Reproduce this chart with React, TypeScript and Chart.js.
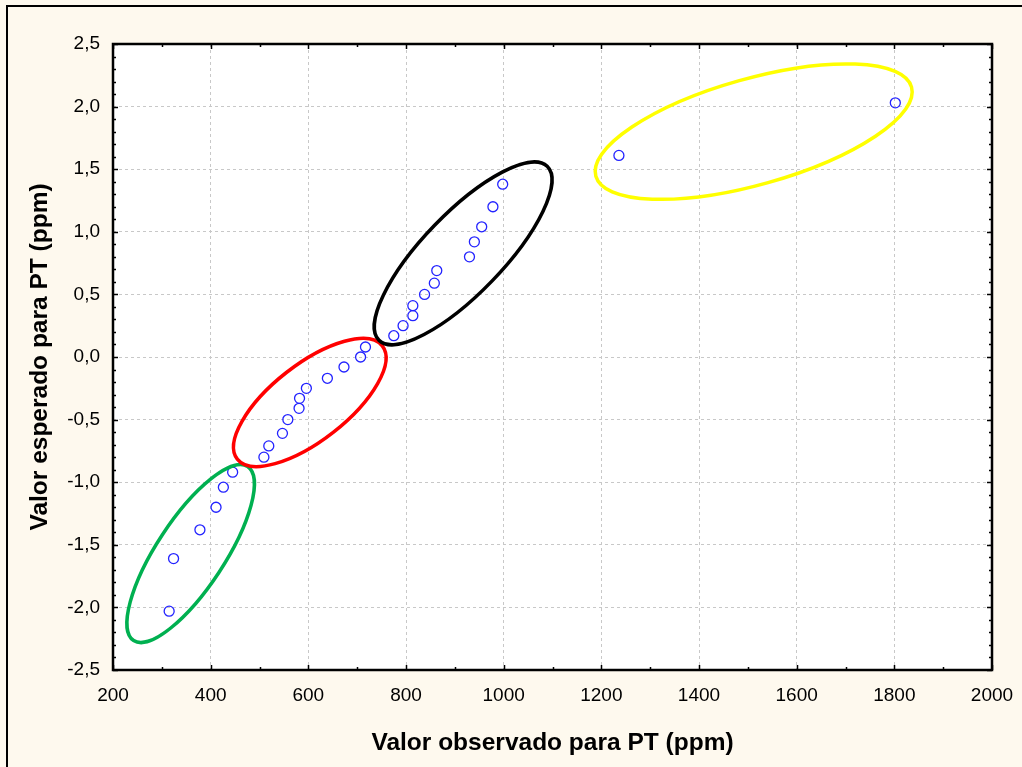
import React, { useEffect, useRef } from "react";
import { Chart, registerables } from "chart.js";

Chart.register(...registerables);

// Observed values (ppm) and expected normal values, grouped as in the reference
const observedPT = [
  315, 324, 378, 411, 426, 445,
  509, 519, 547, 558, 581, 582, 596, 639, 673, 707, 717,
  775, 794, 814, 814, 838, 858, 863, 930, 940, 955, 978, 998,
  1236, 1802,
];
const expectedPT = [
  -2.03, -1.61, -1.38, -1.2, -1.04, -0.92,
  -0.8, -0.71, -0.61, -0.5, -0.41, -0.33, -0.25, -0.17, -0.08, 0.0, 0.08,
  0.17, 0.25, 0.33, 0.41, 0.5, 0.59, 0.69, 0.8, 0.92, 1.04, 1.2, 1.38,
  1.61, 2.03,
];

const xMin = 200;
const xMax = 2000;
const xStep = 200;
const yMin = -2.5;
const yMax = 2.5;
const yStep = 0.5;

const xTitle = "Valor observado para PT (ppm)";
const yTitle = "Valor esperado para PT (ppm)";

// Group ellipses: centre in data units, semi-axes in px, tilt in degrees
const ellipseCenterX = [359, 603, 917, 1512];
const ellipseCenterY = [-1.57, -0.363, 0.828, 1.8];
const ellipseColors = ["#00B050", "#FF0000", "#000000", "#FFFF00"];
const ellipseA = [104, 92, 121, 164];
const ellipseB = [34, 38, 40, 53];
const ellipseAngle = [56.75, 38, 46, 15.75];

const FONT = "'Liberation Sans', Arial, sans-serif";

const framePlugin = {
  id: "framePlugin",
  beforeDraw(chart: any) {
    const { ctx, chartArea: a } = chart;
    ctx.save();
    ctx.fillStyle = "#FFFFFF";
    ctx.fillRect(a.left, a.top, a.right - a.left, a.bottom - a.top);
    ctx.restore();
  },
  afterDatasetsDraw(chart: any) {
    const { ctx, chartArea: a } = chart;
    const xs = chart.scales.x;
    const ys = chart.scales.y;
    ctx.save();
    ctx.beginPath();
    ctx.rect(a.left, a.top, a.right - a.left, a.bottom - a.top);
    ctx.clip();
    for (let i = 0; i < ellipseCenterX.length; i++) {
      const cx = xs.getPixelForValue(ellipseCenterX[i]);
      const cy = ys.getPixelForValue(ellipseCenterY[i]);
      ctx.beginPath();
      ctx.ellipse(cx, cy, ellipseA[i], ellipseB[i], (-ellipseAngle[i] * Math.PI) / 180, 0, Math.PI * 2);
      ctx.strokeStyle = ellipseColors[i];
      ctx.lineWidth = 3.5;
      ctx.stroke();
    }
    ctx.restore();
  },
  afterDraw(chart: any) {
    const { ctx, chartArea: a } = chart;
    const xs = chart.scales.x;
    const ys = chart.scales.y;
    ctx.save();
    ctx.setLineDash([]);
    ctx.strokeStyle = "#000";
    ctx.lineWidth = 1.5;
    for (let v = xMin; v <= xMax + 1e-6; v += xStep / 2) {
      const major = Math.abs((v - xMin) / xStep - Math.round((v - xMin) / xStep)) < 1e-6;
      const len = major ? 5 : 3;
      const px = Math.round(xs.getPixelForValue(v)) + 0.5;
      ctx.beginPath();
      ctx.moveTo(px, a.bottom);
      ctx.lineTo(px, a.bottom - len);
      ctx.moveTo(px, a.top);
      ctx.lineTo(px, a.top + len);
      ctx.stroke();
    }
    const n = Math.round((yMax - yMin) / 0.1);
    for (let k = 0; k <= n; k++) {
      const v = yMin + k * 0.1;
      const major = k % 5 === 0;
      const len = major ? 5 : 3;
      const py = Math.round(ys.getPixelForValue(v)) + 0.5;
      ctx.beginPath();
      ctx.moveTo(a.left, py);
      ctx.lineTo(a.left + len, py);
      ctx.moveTo(a.right, py);
      ctx.lineTo(a.right - len, py);
      ctx.stroke();
    }
    ctx.lineWidth = 2.5;
    ctx.strokeRect(a.left, a.top, a.right - a.left, a.bottom - a.top);
    ctx.restore();
  },
};

export default function App() {
  const ref = useRef<HTMLCanvasElement | null>(null);
  useEffect(() => {
    if (!ref.current) return;
    const points = observedPT.map((x, i) => ({ x, y: expectedPT[i] }));
    const chart = new Chart(ref.current, {
      type: "scatter",
      data: {
        datasets: [
          {
            data: points,
            pointStyle: "circle",
            pointRadius: 5,
            pointBorderWidth: 1.3,
            borderColor: "#2323FF",
            backgroundColor: "rgba(0,0,0,0)",
            showLine: false,
          },
        ],
      },
      options: {
        responsive: false,
        animation: false,
        events: [],
        layout: { padding: { left: 0, top: 44, right: 30, bottom: 0 } },
        plugins: { legend: { display: false }, tooltip: { enabled: false } },
        scales: {
          x: {
            type: "linear",
            min: xMin,
            max: xMax,
            afterFit(scale: any) {
              scale.height = 97;
              scale.paddingLeft = 0;
              scale.paddingRight = 0;
            },
            ticks: {
              stepSize: xStep,
              padding: 14,
              color: "#000",
              font: { family: FONT, size: 19 },
              maxRotation: 0,
              callback: (v: any) => String(v),
            },
            grid: { drawTicks: false, color: "#C8C8C8", lineWidth: 1 },
            border: { display: false, dash: [3, 3] },
            title: {
              display: true,
              text: xTitle,
              color: "#000",
              font: { family: FONT, size: 24.5, weight: "bold" },
              padding: { top: 0, bottom: 9.3 },
            },
          },
          y: {
            type: "linear",
            min: yMin,
            max: yMax,
            afterFit(scale: any) {
              scale.width = 113;
              scale.paddingTop = 0;
              scale.paddingBottom = 0;
            },
            ticks: {
              stepSize: yStep,
              padding: 13,
              color: "#000",
              font: { family: FONT, size: 19 },
              callback: (v: any) => Number(v).toFixed(1).replace(".", ","),
            },
            grid: { drawTicks: false, color: "#C8C8C8", lineWidth: 1 },
            border: { display: false, dash: [3, 3] },
            title: {
              display: true,
              text: yTitle,
              color: "#000",
              font: { family: FONT, size: 24.5, weight: "bold" },
              padding: { top: 25.3, bottom: 0 },
            },
          },
        },
      },
      plugins: [framePlugin],
    } as any);
    return () => chart.destroy();
  }, []);

  return (
    <div style={{ position: "fixed", left: 0, top: 0, width: 1022, height: 767, overflow: "hidden", background: "#FEF9EE" }}>
      <div
        style={{
          position: "absolute",
          left: 6,
          top: 5,
          width: 1100,
          height: 900,
          border: "2.5px solid #000",
          boxSizing: "border-box",
        }}
      />
      <canvas ref={ref} width={1022} height={767} style={{ position: "absolute", left: 0, top: 0 }} />
    </div>
  );
}
